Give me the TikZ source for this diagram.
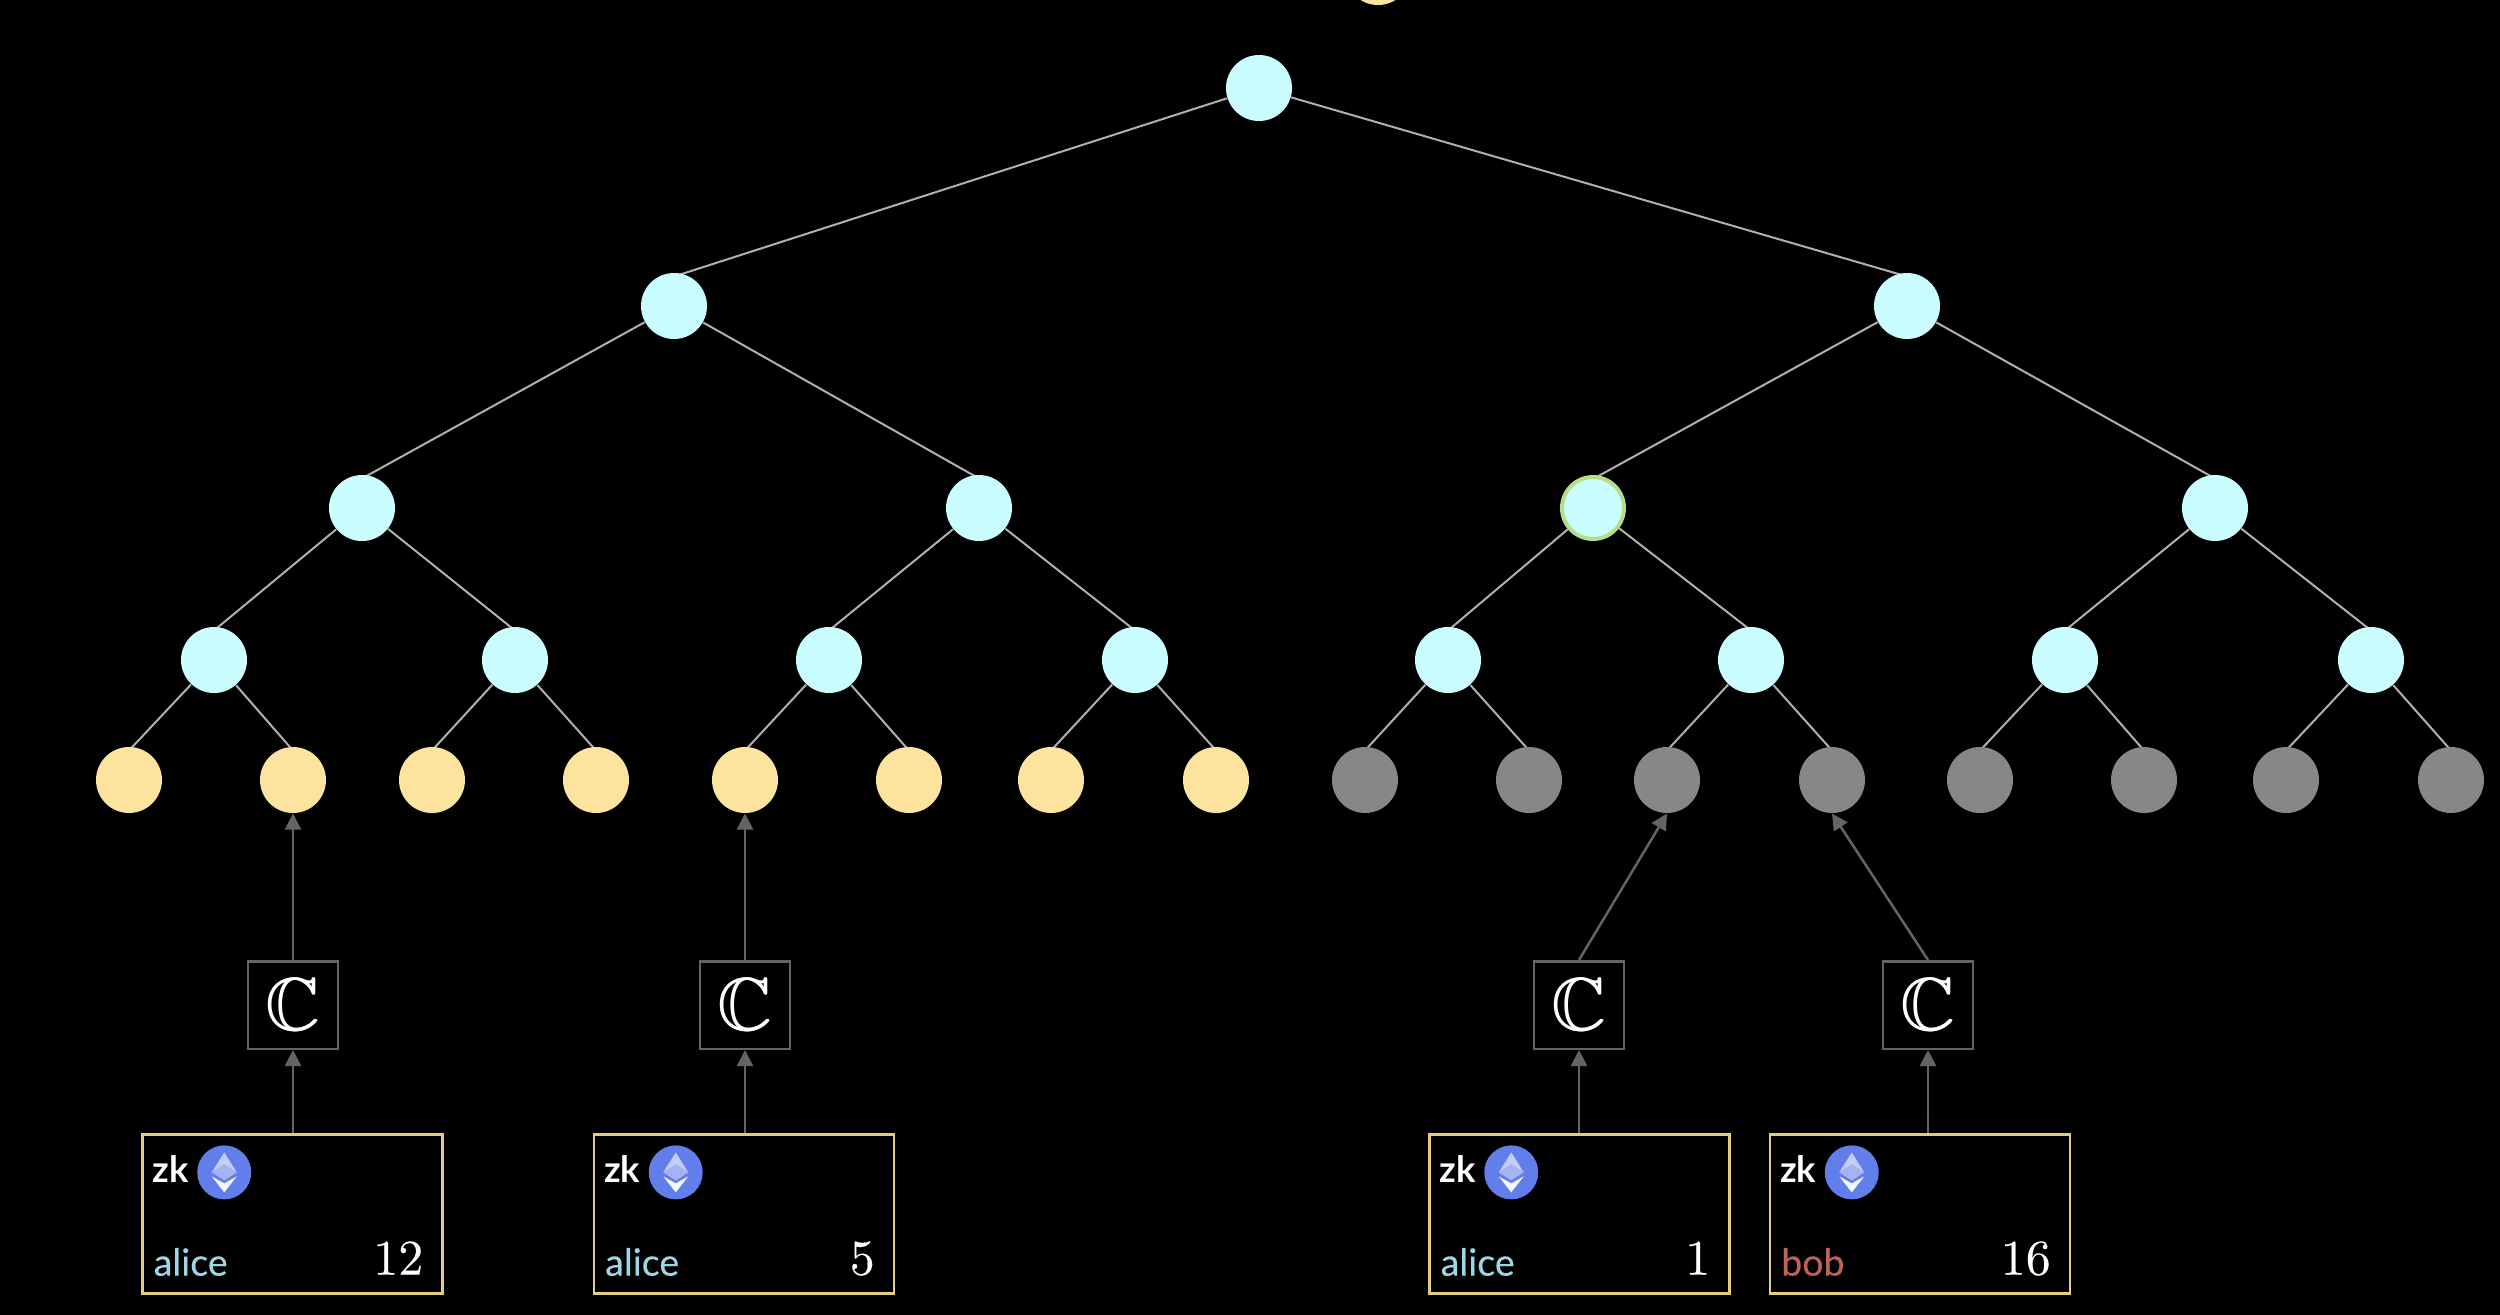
\documentclass[tikz,border=0pt]{standalone}
\usepackage{amssymb}
\usepackage{fontspec}
\setsansfont{Lato}
\newfontfamily\tenrm{lmroman10-regular}[Extension=.otf,FakeBold=0.25]
\newfontfamily\ownerfont{Lato}[FakeBold=0.3]
\usetikzlibrary{arrows.meta,calc,backgrounds}
\definecolor{treecyan}{HTML}{C9FDFF}
\definecolor{leafyellow}{HTML}{FCE49F}
\definecolor{leafgrey}{HTML}{878787}
\definecolor{edgegrey}{HTML}{B0B0B0}
\definecolor{arrowgrey}{HTML}{646464}
\definecolor{boxgold}{HTML}{E2CB83}
\definecolor{alicecol}{HTML}{9FD6E6}
\definecolor{bobcol}{HTML}{BE6357}
\definecolor{ethblue}{HTML}{627EEA}
\definecolor{ringgreen}{HTML}{B5DE87}
\newcommand{\heavyC}{\rlap{$\mathbb{C}$}\kern0.35pt$\mathbb{C}$}
\tikzset{
  x=0.4pt,y=-0.4pt,
  dot/.style={circle,inner sep=0pt,minimum size=26.4pt,fill=#1},
  ringdot/.style={circle,inner sep=0pt,minimum size=24.8pt,fill=treecyan,draw=ringgreen,line width=1.6pt},
  treeedge/.style={draw=edgegrey,line width=0.8pt},
  flow/.style={draw=arrowgrey,line width=1pt,-{Triangle[width=6.4pt,length=6.4pt]}},
  cbox/.style={draw=arrowgrey,line width=1pt,fill=black,inner sep=0pt,minimum width=36pt,minimum height=35pt,text=white,font=\fontsize{30}{30}\selectfont},
  notebox/.style={draw=boxgold,line width=1pt,inner sep=0pt,minimum width=120pt,minimum height=63.5pt},
  zktext/.style={text=white,inner sep=0pt,anchor=base west,font=\sffamily\bfseries\fontsize{14.5}{14.5}\selectfont},
  ownertext/.style={inner sep=0pt,anchor=base west,font=\ownerfont\fontsize{15}{15}\selectfont},
  amounttext/.style={text=white,inner sep=0pt,anchor=base east,font=\tenrm\fontsize{20}{20}\selectfont},
}
\begin{document}
\begin{tikzpicture}
\useasboundingbox (0,0) rectangle (2500,1314);
% partly visible node at the top edge
\node[dot=leafyellow] (top) at (1378,-28) {};
% tree nodes
\node[dot=treecyan] (r) at (1259,88) {};
\node[dot=treecyan] (a) at (674,306) {};
\node[dot=treecyan] (b) at (1907,306) {};
\node[dot=treecyan] (aa) at (362,508) {};
\node[dot=treecyan] (ab) at (979,508) {};
\node[ringdot] (ba) at (1593,508) {};
\node[dot=treecyan] (bb) at (2215,508) {};
\foreach \n/\x in {aaa/214,aab/515,aba/829,abb/1135,baa/1448,bab/1751,bba/2065,bbb/2371}
  \node[dot=treecyan] (\n) at (\x,660) {};
\foreach \n/\x in {l1/129,l2/293,l3/432,l4/596,l5/745,l6/909,l7/1051,l8/1216}
  \node[dot=leafyellow] (\n) at (\x,780) {};
\foreach \n/\x in {l9/1365,l10/1529,l11/1667,l12/1832,l13/1980,l14/2144,l15/2286,l16/2451}
  \node[dot=leafgrey] (\n) at (\x,780) {};
% tree edges, under the nodes
\begin{pgfonlayer}{background}
\fill[black] (-10,-10) rectangle (2510,1330);
\foreach \p/\c in {r/a,r/b,a/aa,a/ab,b/ba,b/bb,aa/aaa,aa/aab,ab/aba,ab/abb,ba/baa,ba/bab,bb/bba,bb/bbb,
  aaa/l1,aaa/l2,aab/l3,aab/l4,aba/l5,aba/l6,abb/l7,abb/l8,baa/l9,baa/l10,bab/l11,bab/l12,bba/l13,bba/l14,bbb/l15,bbb/l16}
  \draw[treeedge] (\p) -- ($(\c.north)+(0,4)$);
\end{pgfonlayer}
% commitment boxes
\node[cbox] (c1) at (293,1005) {\heavyC};
\node[cbox] (c2) at (745,1005) {\heavyC};
\node[cbox] (c3) at (1579,1005) {\heavyC};
\node[cbox] (c4) at (1928,1005) {\heavyC};
% note boxes
\node[notebox] (n1) at (292.5,1214) {};
\node[notebox] (n2) at (744,1214) {};
\node[notebox] (n3) at (1579.5,1214) {};
\node[notebox] (n4) at (1920,1214) {};
% arrows
\draw[flow] (c1.north) -- (l2.south);
\draw[flow] (c2.north) -- (l5.south);
\draw[flow] (c3.north) -- (l11.south);
\draw[flow] (c4.north) -- (l12.south);
\foreach \i in {1,2,3,4}
  \draw[flow] (c\i.south |- n\i.north) -- (c\i.south);
% note contents
\foreach \i/\who/\col/\amt in {1/alice/alicecol/12,2/alice/alicecol/5,3/alice/alicecol/1,4/bob/bobcol/16}{
  \path (n\i.north west) ++(11,49) node[zktext] (zk\i) {zk};
  \path (n\i.south west) ++(12,-19) node[ownertext,text=\col] (who\i) {\who};
  \path (n\i.south east) ++(-20,-20) node[amounttext] (amt\i) {\amt};
  \begin{scope}[shift={($(n\i.north west)+(83,39)$)}]
    \fill[ethblue] (0,0) circle (10.8pt);
    \fill[white!62!ethblue] (0,-20) -- (12.5,0) -- (0,-8) -- (-12.5,0) -- cycle;
    \fill[white!42!ethblue] (0,-8) -- (12.5,0) -- (0,8) -- (-12.5,0) -- cycle;
    \fill[white!92!ethblue] (-12.5,4) -- (0,11) -- (12.5,4) -- (0,20) -- cycle;
  \end{scope}
}
\end{tikzpicture}
\end{document}
